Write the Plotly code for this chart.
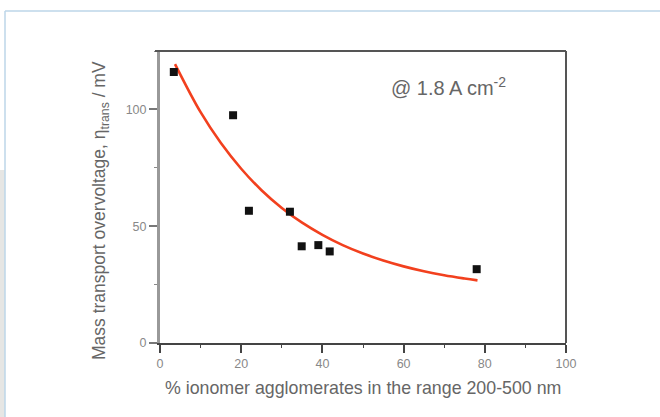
import plotly.graph_objects as go

# Measured points: % ionomer agglomerates (200-500 nm) vs mass transport overvoltage (mV)
agglomerate_pct = [3.4, 18.0, 21.9, 32.0, 34.9, 39.0, 41.8, 78.0]
overvoltage_mv = [116.0, 97.5, 56.6, 56.2, 41.4, 41.9, 39.2, 31.6]

# Exponential-decay fit curve, sampled along x
fit_x = [3.7, 10, 15, 20, 25, 30, 35, 40, 45, 50, 55, 60, 65, 70, 75, 78.2]
fit_y = [119.4, 98.8, 85.6, 74.6, 65.4, 57.8, 51.5, 46.3, 41.9, 38.3, 35.3, 32.8, 30.7, 29.0, 27.6, 26.8]

x_ticks = [0, 20, 40, 60, 80, 100]
y_ticks = [0, 50, 100]

# Plot-area geometry in pixels, used to place page decorations in paper units
L, R, T, B = 160, 566, 51, 343
W, H = R - L, B - T


def px_x(p):
    return (p - L) / W


def px_y(p):
    return (B - p) / H


FONT = "Liberation Sans, Arial, sans-serif"
TEXT = "#666666"

fig = go.Figure()

fig.add_trace(go.Scatter(
    x=fit_x, y=fit_y, mode="lines", line=dict(color="#f2401e", width=2.6, shape="spline"),
    hoverinfo="skip", showlegend=False,
))
fig.add_trace(go.Scatter(
    x=agglomerate_pct, y=overvoltage_mv, mode="markers",
    marker=dict(symbol="square", size=8, color="#111111"), showlegend=False,
))

shapes = [
    # page background strip and light blue frame
    dict(type="rect", xref="paper", yref="paper", x0=px_x(0), x1=px_x(5), y0=px_y(417), y1=px_y(170),
         fillcolor="#e6e6e4", line=dict(width=0), layer="below"),
    dict(type="line", xref="paper", yref="paper", x0=px_x(5), x1=px_x(660), y0=px_y(11), y1=px_y(11),
         line=dict(color="#bcd6e8", width=1.5)),
    dict(type="line", xref="paper", yref="paper", x0=px_x(5), x1=px_x(5), y0=px_y(11), y1=px_y(417),
         line=dict(color="#bcd6e8", width=1.5)),
    # right border of the plot frame
    dict(type="line", xref="paper", yref="paper", x0=1, x1=1, y0=0, y1=1,
         line=dict(color="#555555", width=2)),
    # top border
    dict(type="line", xref="paper", yref="paper", x0=px_x(155), x1=1, y0=1, y1=1,
         line=dict(color="#555555", width=2)),
]

annotations = [
    dict(text="@ 1.8 A cm<sup>-2</sup>", xref="paper", yref="paper", x=px_x(389), y=px_y(86),
         xanchor="left", yanchor="middle", showarrow=False,
         font=dict(family=FONT, size=20, color=TEXT)),
    dict(text="% ionomer agglomerates in the range 200-500 nm", xref="paper", yref="paper",
         x=px_x(363), y=px_y(388), xanchor="center", yanchor="middle", showarrow=False,
         font=dict(family=FONT, size=17.8, color=TEXT)),
    dict(text="Mass transport overvoltage, η<sub>trans</sub> / mV", xref="paper", yref="paper",
         x=px_x(100), y=px_y(211), xanchor="center", yanchor="middle", showarrow=False, textangle=-90,
         font=dict(family=FONT, size=17.5, color=TEXT)),
]

fig.update_layout(
    width=660, height=417,
    margin=dict(l=L, r=660 - R, t=T, b=417 - B),
    paper_bgcolor="white", plot_bgcolor="white",
    shapes=shapes, annotations=annotations,
    xaxis=dict(
        range=[0, 100], tickvals=x_ticks, ticks="outside", ticklen=8, tickwidth=1.5, tickcolor="#444444",
        minor=dict(dtick=10, ticks="outside", ticklen=3, tickcolor="#444444", tickwidth=1.2),
        showline=True, linecolor="#444444", linewidth=1.6, showgrid=False, zeroline=False,
        tickfont=dict(family=FONT, size=12.5, color="#888888"),
    ),
    yaxis=dict(
        range=[0, 125], tickvals=y_ticks, ticks="outside", ticklen=8, tickwidth=1.5, tickcolor="#777777",
        minor=dict(dtick=25, ticks="outside", ticklen=3, tickcolor="#888888", tickwidth=1.2),
        showline=True, linecolor="#999999", linewidth=3, showgrid=False, zeroline=False,
        tickfont=dict(family=FONT, size=12.5, color="#888888"),
    ),
)

fig.write_html("out.html")
